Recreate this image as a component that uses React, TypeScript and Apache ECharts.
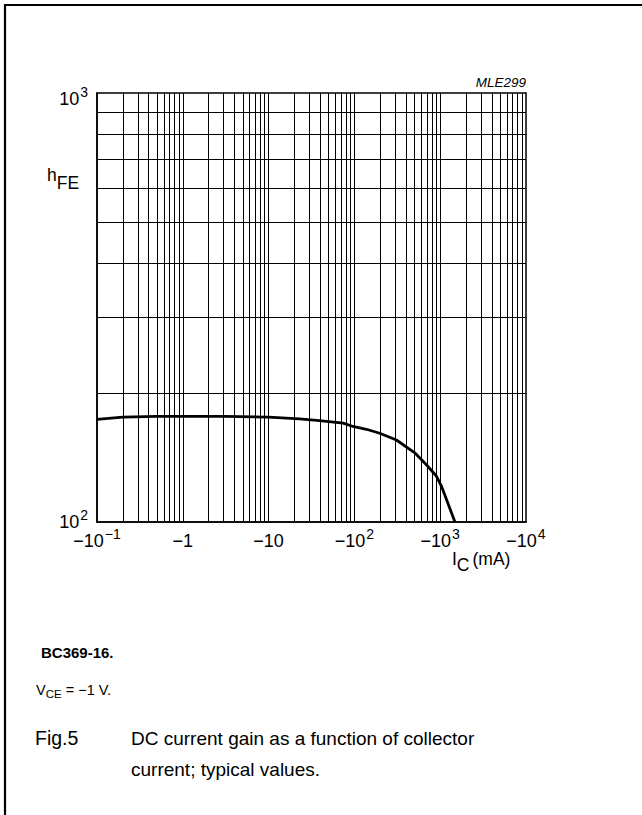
import React, { useEffect, useRef } from "react";
import * as echarts from "echarts";

const FONT = '"Liberation Sans", Arial, Helvetica, sans-serif';

// Curve (|I_C| in mA, h_FE)
const collectorCurrentMA = [0.1, 0.2, 0.5, 1, 3, 10, 23, 39, 74, 96, 138, 197, 309, 505, 690, 903, 1033, 1486];
const dcCurrentGain = [173.5, 175.5, 176.3, 176.3, 176.2, 175.6, 174, 172.3, 170, 167, 164.5, 161, 155.3, 145, 136, 128, 121.3, 100];

// Tick labels
const xTickValues = [0.1, 1, 10, 100, 1000, 10000];
const xTickBase = ["\u221210", "\u22121", "\u221210", "\u221210", "\u221210", "\u221210"];
const xTickSup = ["\u22121", "", "", "2", "3", "4"];
const yTickValues = [100, 1000];
const yTickBase = ["10", "10"];
const yTickSup = ["2", "3"];

// Log grid
const xDecades = [0.1, 1, 10, 100, 1000];
const yDecades = [100];
const gridSteps = [1, 2, 3, 4, 5, 6, 7, 8, 9];

const X_MIN = 0.1;
const X_MAX = 10000;
const Y_MIN = 100;
const Y_MAX = 1000;

function gridValues(decades: number[], lo: number, hi: number) {
  const out: number[] = [];
  decades.forEach((d) => {
    gridSteps.forEach((m) => {
      const v = m * d;
      if (v > lo * 1.0001 && v < hi * 0.9999) out.push(v);
    });
  });
  return out;
}

function tickFormatter(values: number[], base: string[], sup: string[], perIndex: boolean) {
  return (v: number) => {
    const i = values.findIndex((t) => Math.abs(Math.log10(t) - Math.log10(v)) < 1e-6);
    if (i < 0) return "";
    const b = perIndex ? `b${i}` : "b";
    const s = perIndex ? `s${i}` : "s";
    return sup[i] ? `{${b}|${base[i]}}{${s}|${sup[i]}}` : `{${b}|${base[i]}}`;
  };
}

const baseStyle = { fontSize: 18, lineHeight: 18, fontFamily: FONT, color: "#000" };
const supStyle = { fontSize: 14, lineHeight: 14, fontFamily: FONT, color: "#000" };

const xLabelRich = {
  b: { ...baseStyle, padding: [5, 0, 0, 0] },
  s: { ...supStyle, padding: [0, 0, 9, 1] },
};

const yLabelRich = {
  // bottom label (10^2): lifted slightly
  b0: { ...baseStyle, padding: [5, 0, 5, 0] },
  s0: { ...supStyle, padding: [0, 0, 14, 1] },
  // top label (10^3): lowered slightly
  b1: { ...baseStyle, padding: [11, 0, 0, 0] },
  s1: { ...supStyle, padding: [6, 0, 9, 1] },
};

export default function App() {
  const ref = useRef<HTMLDivElement>(null);

  useEffect(() => {
    if (!ref.current) return;
    const chart = echarts.init(ref.current, undefined, { renderer: "svg" });

    const vLines = gridValues(xDecades, X_MIN, X_MAX).map((v) => ({ xAxis: v }));
    const hLines = gridValues(yDecades, Y_MIN, Y_MAX).map((v) => ({ yAxis: v }));

    const option: any = {
      animation: false,
      backgroundColor: "#fff",
      grid: {
        show: true,
        left: 97,
        top: 93,
        width: 429,
        height: 429,
        borderColor: "#000",
        borderWidth: 1.5,
        backgroundColor: "transparent",
      },
      xAxis: {
        type: "log",
        logBase: 10,
        min: X_MIN,
        max: X_MAX,
        axisLine: { show: true, lineStyle: { color: "#000", width: 1.5 } },
        axisTick: { show: false },
        splitLine: { show: false },
        minorTick: { show: false },
        axisLabel: {
          show: true,
          interval: 0,
          margin: 7,
          showMinLabel: true,
          showMaxLabel: true,
          formatter: tickFormatter(xTickValues, xTickBase, xTickSup, false),
          rich: xLabelRich,
          color: "#000",
          fontFamily: FONT,
        },
      },
      yAxis: {
        type: "log",
        logBase: 10,
        min: Y_MIN,
        max: Y_MAX,
        axisLine: { show: true, lineStyle: { color: "#000", width: 1.5 } },
        axisTick: { show: false },
        splitLine: { show: false },
        minorTick: { show: false },
        axisLabel: {
          show: true,
          interval: 0,
          margin: 9,
          showMinLabel: true,
          showMaxLabel: true,
          formatter: tickFormatter(yTickValues, yTickBase, yTickSup, true),
          rich: yLabelRich,
          color: "#000",
          fontFamily: FONT,
        },
      },
      series: [
        {
          type: "line",
          data: collectorCurrentMA.map((x, i) => [x, dcCurrentGain[i]]),
          showSymbol: false,
          symbol: "none",
          smooth: false,
          lineStyle: { color: "#000", width: 2.8 },
          z: 5,
          markLine: {
            silent: true,
            symbol: "none",
            label: { show: false },
            lineStyle: { color: "#000", width: 1, type: "solid" },
            emphasis: { disabled: true },
            data: [...vLines, ...hLines],
          },
        },
      ],
      graphic: [
        {
          type: "polyline",
          shape: { points: [[5, 815], [5, 5], [642, 5]] },
          style: { stroke: "#000", lineWidth: 2.2, fill: "none" },
          silent: true,
        },
        {
          type: "text",
          x: 526,
          y: 82,
          style: {
            text: "MLE299",
            fontFamily: FONT,
            fontSize: 13.5,
            fontStyle: "italic",
            fill: "#000",
            textAlign: "right",
            align: "right",
            textVerticalAlign: "middle",
            verticalAlign: "middle",
          },
        },
        {
          type: "text",
          x: 47,
          y: 170,
          style: {
            text: "{h|h}{f|FE}",
            fill: "#000",
            fontFamily: FONT,
            textAlign: "left",
            align: "left",
            textVerticalAlign: "top",
            verticalAlign: "top",
            rich: {
              h: { fontSize: 17.5, lineHeight: 18, padding: [0, 0, 8, 0], fontFamily: FONT, fill: "#000" },
              f: { fontSize: 17.5, lineHeight: 18, padding: [8, 0, 0, 0], fontFamily: FONT, fill: "#000" },
            },
          },
        },
        {
          type: "text",
          x: 452,
          y: 553,
          style: {
            text: "{i|I}{c|C}{m|(mA)}",
            fill: "#000",
            fontFamily: FONT,
            textAlign: "left",
            align: "left",
            textVerticalAlign: "top",
            verticalAlign: "top",
            rich: {
              i: { fontSize: 17.5, lineHeight: 18, padding: [0, 0, 6, 0], fontFamily: FONT, fill: "#000" },
              c: { fontSize: 17.5, lineHeight: 18, padding: [6, 0, 0, 0], fontFamily: FONT, fill: "#000" },
              m: { fontSize: 17.5, lineHeight: 18, padding: [0, 0, 6, 3], fontFamily: FONT, fill: "#000" },
            },
          },
        },
        {
          type: "text",
          x: 41,
          y: 652,
          style: {
            text: "BC369-16.",
            fontFamily: FONT,
            fontSize: 15,
            fontWeight: "bold",
            fill: "#000",
            textAlign: "left",
            align: "left",
            textVerticalAlign: "middle",
            verticalAlign: "middle",
          },
        },
        {
          type: "text",
          x: 36,
          y: 685,
          style: {
            text: "{v|V}{s|CE}{v| = \u22121 V.}",
            fill: "#000",
            fontFamily: FONT,
            textAlign: "left",
            align: "left",
            textVerticalAlign: "top",
            verticalAlign: "top",
            rich: {
              v: { fontSize: 14.5, lineHeight: 14, padding: [0, 0, 4, 0], fontFamily: FONT, fill: "#000" },
              s: { fontSize: 11.5, lineHeight: 11, padding: [5, 0, 2, 0], fontFamily: FONT, fill: "#000" },
            },
          },
        },
        {
          type: "text",
          x: 35,
          y: 738,
          style: {
            text: "Fig.5",
            fontFamily: FONT,
            fontSize: 19.5,
            fill: "#000",
            textAlign: "left",
            align: "left",
            textVerticalAlign: "middle",
            verticalAlign: "middle",
          },
        },
        {
          type: "text",
          x: 131,
          y: 738,
          style: {
            text: "DC current gain as a function of collector",
            fontFamily: FONT,
            fontSize: 19,
            fill: "#000",
            textAlign: "left",
            align: "left",
            textVerticalAlign: "middle",
            verticalAlign: "middle",
          },
        },
        {
          type: "text",
          x: 131,
          y: 769,
          style: {
            text: "current; typical values.",
            fontFamily: FONT,
            fontSize: 19,
            fill: "#000",
            textAlign: "left",
            align: "left",
            textVerticalAlign: "middle",
            verticalAlign: "middle",
          },
        },
      ],
    };

    chart.setOption(option);
    return () => {
      chart.dispose();
    };
  }, []);

  return (
    <div
      ref={ref}
      style={{ position: "fixed", left: 0, top: 0, width: 642, height: 815, background: "#fff" }}
    />
  );
}
